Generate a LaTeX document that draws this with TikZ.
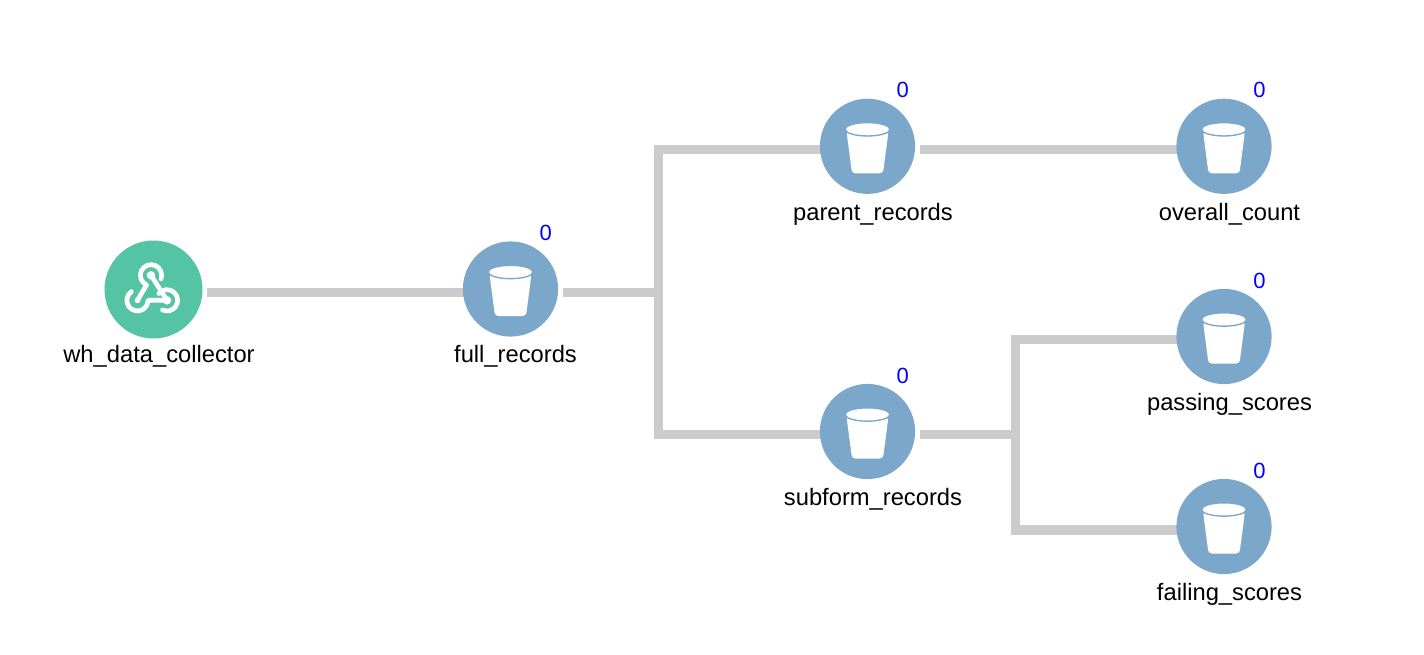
\documentclass[tikz,border=0pt]{standalone}
\usepackage{fontspec}
\setmainfont{Liberation Sans}
\usetikzlibrary{backgrounds,calc}
\definecolor{bucketblue}{HTML}{7BA7CB}
\definecolor{hookgreen}{HTML}{55C4A5}
\definecolor{edgegray}{HTML}{CCCCCC}
\definecolor{countblue}{HTML}{0000FF}
\tikzset{
  x=0.75pt,y=-0.75pt,
  bucketnode/.style={circle,fill=bucketblue,inner sep=0pt,minimum size=71.4pt},
  hooknode/.style={circle,fill=hookgreen,inner sep=0pt,minimum size=73.5pt},
  namelabel/.style={anchor=base,inner sep=0pt,font=\fontsize{17.8pt}{20pt}\selectfont,text=black},
  countlabel/.style={anchor=base,inner sep=0pt,font=\fontsize{16.5pt}{20pt}\selectfont,text=countblue},
  edgeline/.style={draw=edgegray,line width=7pt,line join=miter,line cap=butt},
  hookline/.style={draw=white,line width=3.5pt,line cap=round,line join=round},
  bucketicon/.pic={
    \fill[white,rounded corners=2.5pt] (-21,-15) -- (-15.5,27) -- (15.5,27) -- (21,-15) -- cycle;
    \fill[white,draw=bucketblue,line width=1pt] (0,-17) ellipse [x radius=16.8pt,y radius=5pt];
  },
}
\begin{document}
\begin{tikzpicture}
\useasboundingbox (0,0) rectangle (1424,654);

% nodes
\node[hooknode]   (wh)      at (153.5,289.5) {};
\node[bucketnode] (full)    at (510.5,289) {};
\node[bucketnode] (parent)  at (867.5,146.3) {};
\node[bucketnode] (overall) at (1224,146.3) {};
\node[bucketnode] (subform) at (867.5,431.5) {};
\node[bucketnode] (passing) at (1224,336.5) {};
\node[bucketnode] (failing) at (1224,526.5) {};

\coordinate (j1) at (658.7,292.3);
\coordinate (j2) at (1015.3,434.8);

% connectors
\begin{scope}[on background layer]
  \draw[edgeline] ([xshift=3pt]wh.east |- j1) -- (full.center |- j1);
  \draw[edgeline] ([xshift=3.6pt]full.east |- j1) -- ($(j1)+(3.45pt,0)$);
  \draw[edgeline] ([yshift=-2.55pt]parent.center) -| (j1) |- (subform.center |- j2);
  \draw[edgeline] ([shift={(3.8pt,-2.55pt)}]parent.east) -- ([yshift=-2.55pt]overall.center);
  \draw[edgeline] ([xshift=3.8pt]subform.east |- j2) -- ($(j2)+(3.45pt,0)$);
  \draw[edgeline] ([yshift=-2.4pt]passing.center) -| (j2) |- ([yshift=-2.6pt]failing.center);
\end{scope}

% bucket icons
\pic at (full.center) {bucketicon};
\pic at (parent.center) {bucketicon};
\pic at (overall.center) {bucketicon};
\pic at (subform.center) {bucketicon};
\pic at (passing.center) {bucketicon};
\pic at (failing.center) {bucketicon};

% webhook icon
\coordinate (T) at (151,275.3);
\coordinate (R) at (167,300.3);
\coordinate (L) at (137.5,300.3);
\fill[white] (T) circle (3.2pt) (R) circle (3.2pt) (L) circle (2.2pt);
\draw[hookline] (T) -- (R);
\draw[hookline] (L) -- ([shift={(245:8pt)}]T) arc[start angle=245,delta angle=-265,radius=8pt];
\draw[hookline] ([shift={(125:8pt)}]L) arc[start angle=125,delta angle=235,radius=8pt] -- (R);
\draw[hookline] ([shift={(140:8pt)}]R) arc[start angle=140,delta angle=-255,radius=8pt];

% names
\node[namelabel] (wh-name)      at (159,362.3)   {wh\_data\_collector};
\node[namelabel] (full-name)    at (515.5,362.3) {full\_records};
\node[namelabel] (parent-name)  at (873,220.1)   {parent\_records};
\node[namelabel] (overall-name) at (1229.5,220.1){overall\_count};
\node[namelabel] (subform-name) at (873,505.3)   {subform\_records};
\node[namelabel] (passing-name) at (1229.5,410.3){passing\_scores};
\node[namelabel] (failing-name) at (1229.5,600.3){failing\_scores};

% counts
\node[countlabel] (full-count)    at (545.7,240.7) {0};
\node[countlabel] (parent-count)  at (902.7,97.8)  {0};
\node[countlabel] (overall-count) at (1259.5,97.8) {0};
\node[countlabel] (subform-count) at (902.7,383.5) {0};
\node[countlabel] (passing-count) at (1259.5,288.5){0};
\node[countlabel] (failing-count) at (1259.5,478.5){0};
\end{tikzpicture}
\end{document}
